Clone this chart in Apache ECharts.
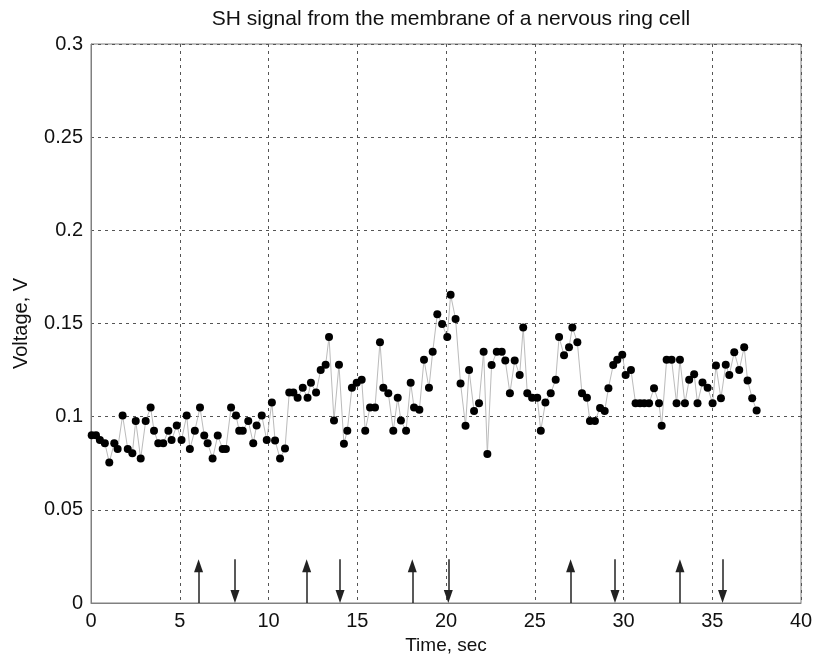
<!DOCTYPE html>
<html>
<head>
<meta charset="utf-8">
<script src="https://cdn.jsdelivr.net/npm/echarts@6/dist/echarts.min.js"></script>
<style>
  html, body { margin: 0; padding: 0; background: #fff; }
  #chart { width: 827px; height: 661px; }
</style>
</head>
<body>
<div id="chart"></div>
<script>
// sample times (sec)
const times = [
  0.04, 0.28, 0.50, 0.78, 1.03, 1.31, 1.50, 1.78, 2.07, 2.33,
  2.52, 2.80, 3.08, 3.36, 3.55, 3.79, 4.07, 4.36, 4.54, 4.83,
  5.10, 5.39, 5.57, 5.85, 6.14, 6.38, 6.57, 6.85, 7.14, 7.42,
  7.60, 7.89, 8.17, 8.35, 8.55, 8.86, 9.14, 9.33, 9.62, 9.90,
  10.19, 10.37, 10.65, 10.93, 11.17, 11.40, 11.64, 11.93, 12.20, 12.39,
  12.68, 12.94, 13.22, 13.41, 13.69, 13.97, 14.25, 14.44, 14.70, 14.97,
  15.25, 15.45, 15.72, 16.00, 16.28, 16.47, 16.75, 17.03, 17.28, 17.46,
  17.75, 18.01, 18.20, 18.50, 18.76, 19.04, 19.25, 19.51, 19.78, 20.07,
  20.26, 20.54, 20.82, 21.10, 21.30, 21.58, 21.86, 22.12, 22.33, 22.57,
  22.86, 23.14, 23.34, 23.60, 23.87, 24.15, 24.35, 24.58, 24.85, 25.14,
  25.34, 25.60, 25.90, 26.18, 26.37, 26.65, 26.93, 27.12, 27.40, 27.66,
  27.94, 28.11, 28.39, 28.68, 28.94, 29.15, 29.42, 29.65, 29.93, 30.12,
  30.42, 30.68, 30.93, 31.17, 31.44, 31.72, 32.00, 32.15, 32.43, 32.71,
  32.99, 33.18, 33.46, 33.70, 33.98, 34.17, 34.45, 34.74, 35.02, 35.21,
  35.49, 35.76, 35.96, 36.24, 36.52, 36.80, 36.99, 37.25, 37.50
];

// voltage (V)
const voltage = [
  0.0900, 0.0900, 0.0875, 0.0858, 0.0754, 0.0858, 0.0827, 0.1006, 0.0827, 0.0804,
  0.0977, 0.0775, 0.0977, 0.1049, 0.0925, 0.0858, 0.0858, 0.0925, 0.0875, 0.0952,
  0.0875, 0.1006, 0.0827, 0.0925, 0.1049, 0.0899, 0.0858, 0.0775, 0.0899, 0.0827,
  0.0827, 0.1049, 0.1006, 0.0925, 0.0925, 0.0977, 0.0858, 0.0952, 0.1006, 0.0875,
  0.1076, 0.0872, 0.0775, 0.0829, 0.1130, 0.1130, 0.1101, 0.1155, 0.1101, 0.1182,
  0.1130, 0.1250, 0.1278, 0.1427, 0.0979, 0.1278, 0.0854, 0.0925, 0.1155, 0.1182,
  0.1198, 0.0925, 0.1049, 0.1049, 0.1400, 0.1155, 0.1126, 0.0925, 0.1101, 0.0979,
  0.0925, 0.1182, 0.1049, 0.1037, 0.1305, 0.1155, 0.1348, 0.1550, 0.1497, 0.1427,
  0.1654, 0.1524, 0.1178, 0.0951, 0.1251, 0.1030, 0.1072, 0.1348, 0.0800, 0.1277,
  0.1348, 0.1348, 0.1301, 0.1126, 0.1301, 0.1223, 0.1479, 0.1126, 0.1101, 0.1101,
  0.0925, 0.1076, 0.1126, 0.1198, 0.1427, 0.1330, 0.1373, 0.1479, 0.1400, 0.1126,
  0.1101, 0.0977, 0.0977, 0.1047, 0.1030, 0.1153, 0.1277, 0.1305, 0.1332, 0.1224,
  0.1251, 0.1072, 0.1072, 0.1072, 0.1072, 0.1153, 0.1072, 0.0951, 0.1305, 0.1305,
  0.1072, 0.1305, 0.1072, 0.1198, 0.1228, 0.1072, 0.1184, 0.1155, 0.1072, 0.1274,
  0.1099, 0.1278, 0.1224, 0.1346, 0.1251, 0.1373, 0.1194, 0.1099, 0.1033
];

// stimulus markers (sec)
const upArrows = [6.06, 12.15, 18.10, 27.02, 33.18];
const downArrows = [8.11, 14.03, 20.13, 29.52, 35.58];
const arrowTop = 0.0235;

const points = times.map((t, i) => [t, voltage[i]]);

const headLen = 13;
const pxPerV = 559 / 0.3;
const headV = headLen / 2 / pxPerV;

const arrowLines = [];
upArrows.forEach(t => {
  arrowLines.push([{ coord: [t, 0], symbol: 'none' }, { coord: [t, arrowTop - headV], symbol: 'triangle' }]);
});
downArrows.forEach(t => {
  arrowLines.push([{ coord: [t, arrowTop], symbol: 'none' }, { coord: [t, headV], symbol: 'triangle' }]);
});

const font = '"Liberation Sans", Arial, sans-serif';

let myChart = echarts.init(document.getElementById('chart'));
myChart.setOption({
  animation: false,
  backgroundColor: '#fff',
  title: {
    text: 'SH signal from the membrane of a nervous ring cell',
    left: 446,
    textAlign: 'center',
    top: 4,
    textStyle: { fontFamily: font, fontSize: 21, fontWeight: 'normal', color: '#111' }
  },
  grid: {
    left: 91,
    right: 26,
    top: 44,
    bottom: 58,
    show: true,
    borderColor: '#808080',
    borderWidth: 1
  },
  xAxis: {
    type: 'value',
    min: 0,
    max: 40,
    interval: 5,
    name: 'Time, sec',
    nameLocation: 'middle',
    nameGap: 33,
    nameTextStyle: { fontFamily: font, fontSize: 19, color: '#111' },
    axisLine: { show: true, lineStyle: { color: '#808080' } },
    axisTick: { show: false },
    axisLabel: { fontFamily: font, fontSize: 20, color: '#111', margin: 8 },
    splitLine: { show: true, lineStyle: { color: '#555', type: [3, 4], width: 1 } }
  },
  yAxis: {
    type: 'value',
    min: 0,
    max: 0.3,
    interval: 0.05,
    name: 'Voltage, V',
    nameLocation: 'middle',
    nameGap: 60,
    nameTextStyle: { fontFamily: font, fontSize: 20, color: '#111' },
    axisLine: { show: true, lineStyle: { color: '#808080' } },
    axisTick: { show: false },
    axisLabel: { fontFamily: font, fontSize: 20, color: '#111', margin: 8 },
    splitLine: { show: true, lineStyle: { color: '#555', type: [3, 4], width: 1 } }
  },
  series: [
    {
      name: 'signal',
      type: 'line',
      data: points,
      symbol: 'circle',
      symbolSize: 8,
      showAllSymbol: true,
      itemStyle: { color: '#000' },
      lineStyle: { color: '#bbb', width: 1 },
      z: 3
    },
    {
      name: 'stimuli',
      type: 'line',
      data: [],
      markLine: {
        silent: true,
        symbolSize: [9, headLen],
        label: { show: false },
        lineStyle: { color: '#222', width: 1.5, type: 'solid' },
        data: arrowLines
      }
    }
  ]
});

window.addEventListener('resize', () => {
  myChart.resize();
});
</script>
</body>
</html>
